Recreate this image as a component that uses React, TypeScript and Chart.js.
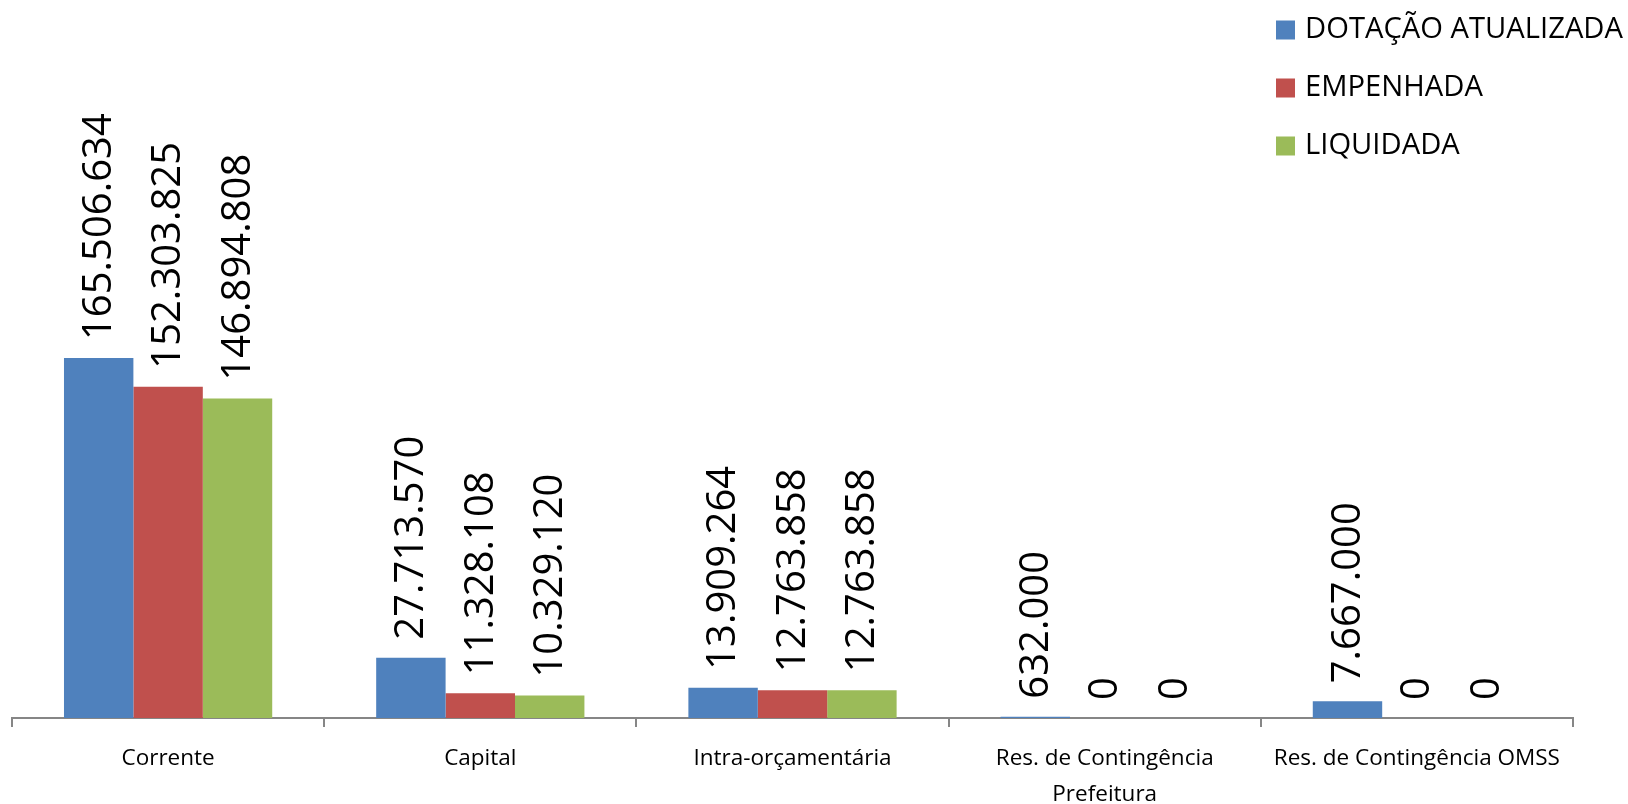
import React, { useEffect, useRef } from "react";
import { Chart, registerables } from "chart.js";

Chart.register(...registerables);

const categories: (string | string[])[] = [
  "Corrente",
  "Capital",
  "Intra-orçamentária",
  ["Res. de Contingência", "Prefeitura"],
  "Res. de Contingência OMSS",
];

const seriesNames = ["DOTAÇÃO ATUALIZADA", "EMPENHADA", "LIQUIDADA"];
const dotacao = [165506634, 27713570, 13909264, 632000, 7667000];
const empenhada = [152303825, 11328108, 12763858, 0, 0];
const liquidada = [146894808, 10329120, 12763858, 0, 0];
const seriesColors = ["#4F81BD", "#C0504D", "#9BBB59"];

const FONT = "'Open Sans', 'Liberation Sans', sans-serif";

function fmt(v: number): string {
  const s = Math.round(v).toString();
  return s.replace(/\B(?=(\d{3})+(?!\d))/g, ".");
}

const labelPlugin = {
  id: "rotatedLabels",
  afterDatasetsDraw(chart: any) {
    const ctx = chart.ctx;
    ctx.save();
    ctx.font = `40px ${FONT}`;
    ctx.fillStyle = "#000";
    ctx.textAlign = "left";
    ctx.textBaseline = "middle";
    chart.data.datasets.forEach((ds: any, di: number) => {
      const meta = chart.getDatasetMeta(di);
      meta.data.forEach((el: any, i: number) => {
        const v = ds.data[i];
        ctx.save();
        ctx.translate(el.x + 1, el.y - 18);
        ctx.rotate(-Math.PI / 2);
        ctx.fillText(fmt(v), 0, 0);
        ctx.restore();
      });
    });
    ctx.restore();
  },
};

const legendPlugin = {
  id: "customLegend",
  afterDraw(chart: any) {
    const ctx = chart.ctx;
    ctx.save();
    ctx.font = `29.2px ${FONT}`;
    ctx.textAlign = "left";
    ctx.textBaseline = "middle";
    chart.data.datasets.forEach((ds: any, i: number) => {
      const cy = 30 + i * 58;
      ctx.fillStyle = ds.backgroundColor;
      ctx.fillRect(1276, cy - 9.5, 19, 19);
      ctx.fillStyle = "#000";
      ctx.fillText(ds.label, 1305, cy);
    });
    ctx.restore();
  },
};

export default function App() {
  const ref = useRef<HTMLCanvasElement | null>(null);
  useEffect(() => {
    if (!ref.current) return;
    const values = [dotacao, empenhada, liquidada];
    const chart = new Chart(ref.current, {
      type: "bar",
      data: {
        labels: categories as any,
        datasets: seriesNames.map((name, i) => ({
          label: name,
          data: values[i],
          backgroundColor: seriesColors[i],
          borderWidth: 0,
          categoryPercentage: 0.667,
          barPercentage: 1,
        })),
      },
      options: {
        responsive: false,
        animation: false,
        devicePixelRatio: 1,
        layout: { padding: { left: 12, right: 55, top: 283, bottom: 0 } },
        plugins: {
          legend: { display: false },
          tooltip: { enabled: false },
        },
        scales: {
          x: {
            offset: true,
            grid: {
              display: true,
              drawOnChartArea: false,
              drawTicks: true,
              tickLength: 9,
              offset: true,
              color: "#868686",
              lineWidth: 2,
            },
            border: { display: true, color: "#868686", width: 2 },
            ticks: {
              color: "#000",
              font: { family: FONT, size: 22.5, lineHeight: 1.6 },
              padding: 14,
              maxRotation: 0,
              autoSkip: false,
            },
            afterFit: (scale: any) => {
              scale.height = 86;
            },
          },
          y: {
            display: false,
            min: 0,
            max: 200000000,
          },
        },
      },
      plugins: [labelPlugin, legendPlugin],
    });
    return () => chart.destroy();
  }, []);
  return (
    <div
      style={{
        position: "fixed",
        left: 0,
        top: 0,
        width: 1628,
        height: 804,
        background: "#fff",
      }}
    >
      <canvas ref={ref} width={1628} height={804} style={{ display: "block" }} />
    </div>
  );
}
